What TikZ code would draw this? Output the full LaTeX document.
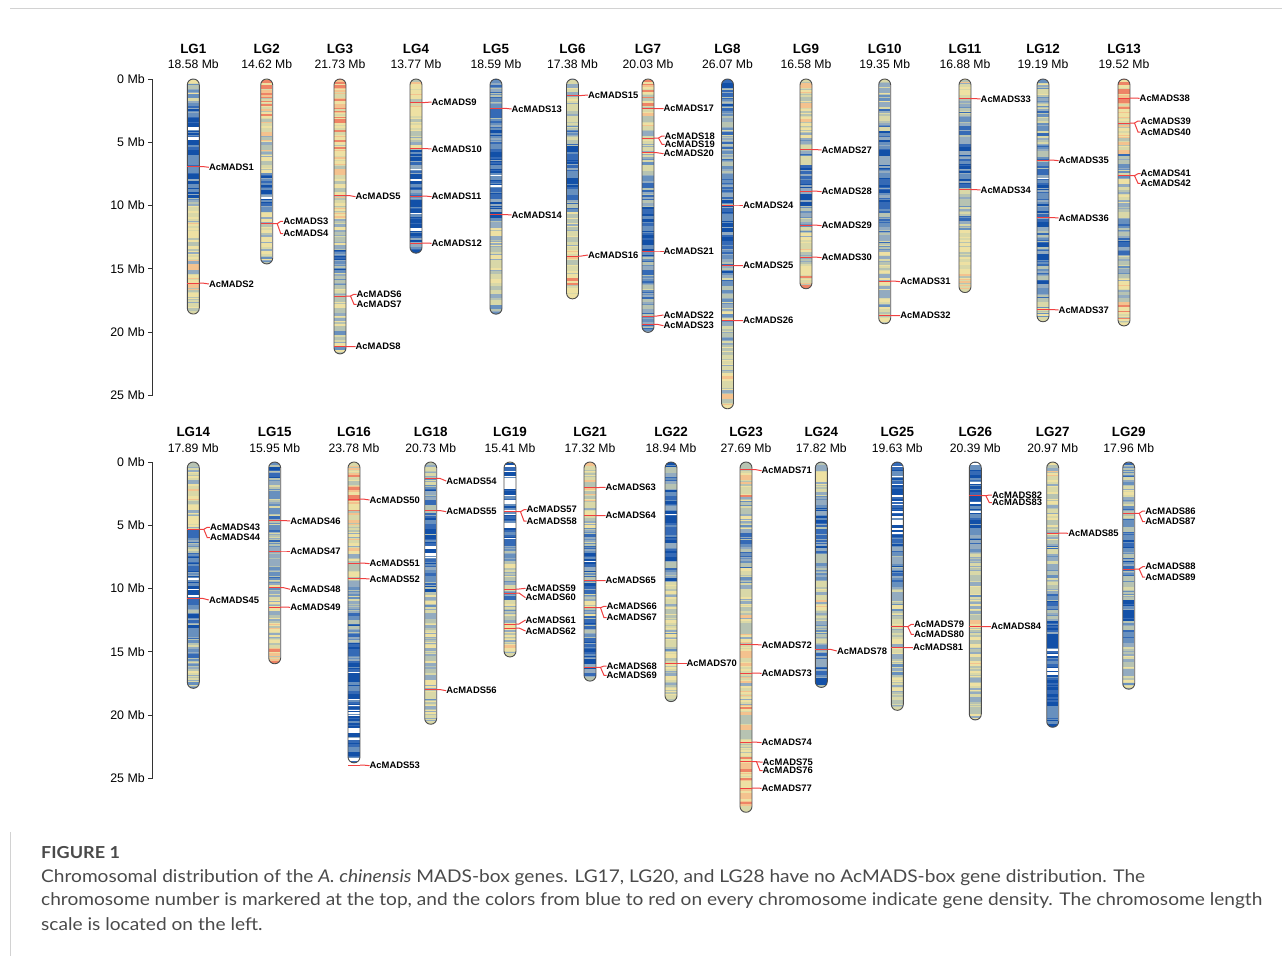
\documentclass[tikz,border=0pt]{standalone}
\usepackage{fontspec}
\setmainfont{Liberation Sans}
\newfontfamily\capfont{Lato}
\usepackage{graphicx}
\usetikzlibrary{calc}
\definecolor{cW}{HTML}{FFFFFF}
\definecolor{c1}{HTML}{1250A8}
\definecolor{c2}{HTML}{356AB6}
\definecolor{c3}{HTML}{6890BE}
\definecolor{c4}{HTML}{93ABC0}
\definecolor{c5}{HTML}{B7C3B2}
\definecolor{c6}{HTML}{D9D8A8}
\definecolor{c7}{HTML}{EEE1A3}
\definecolor{c8}{HTML}{F4C28E}
\definecolor{c9}{HTML}{EE8466}
\definecolor{bandred}{HTML}{F04040}
\definecolor{chrline}{HTML}{4D4D4D}
\definecolor{axcol}{HTML}{333333}
\definecolor{captxt}{HTML}{4A4A4A}
\definecolor{framegray}{HTML}{D2D2D2}
\newlength\capw
\def\mbs{12.65}
\def\stp{0.1}
\def\lastsc{c5}
\newcommand\pickcolor[1]{%
 \ifdim#1pt<-0.08pt \def\sc{cW}\else
 \ifdim#1pt<0.12pt \def\sc{c1}\else
 \ifdim#1pt<0.24pt \def\sc{c2}\else
 \ifdim#1pt<0.36pt \def\sc{c3}\else
 \ifdim#1pt<0.48pt \def\sc{c4}\else
 \ifdim#1pt<0.60pt \def\sc{c5}\else
 \ifdim#1pt<0.72pt \def\sc{c6}\else
 \ifdim#1pt<0.86pt \def\sc{c7}\else
 \ifdim#1pt<0.96pt \def\sc{c8}\else \def\sc{c9}%
 \fi\fi\fi\fi\fi\fi\fi\fi\fi}
\newcommand\chrom[5]{%
 \pgfmathsetmacro\chh{#4*\mbs}%
 \begin{scope}
 \clip[rounded corners=5.9pt] (#2-6,#3) rectangle (#2+6,#3+\chh);
 \fill[c6] (#2-6,#3) rectangle (#2+6,#3+\chh);
 \pgfmathtruncatemacro\nst{#4/\stp}%
 \foreach \i in {0,...,\nst}{%
 \pgfmathtruncatemacro\seg{min(9,10*\i*\stp/#4)}%
 \pgfmathsetmacro\bb{{#5}[\seg]}%
 \pgfmathsetmacro\vv{\bb+(rnd-0.5)*0.5}%
 \pgfmathsetmacro\rr{rnd}%
 \ifdim\rr pt<0.25pt \let\sc\lastsc \else \pickcolor{\vv}\fi
 \global\let\lastsc\sc
 \fill[\sc] (#2-6,#3+\i*\stp*\mbs) rectangle (#2+6,#3+\i*\stp*\mbs+\stp*\mbs+0.25);
 }
 \end{scope}
 \node[chrbox, minimum height=\chh, anchor=north] (c#1) at (#2,#3) {};
}
\newcommand\lgtitle[4]{%
 \node[lgt] (t#1) at (#2,#3) {LG#1};
 \node[mbt] (m#1) at (#2,#3+16) {#4 Mb};
}
\newcommand\gene[4]{%
 \coordinate (g#4) at (#1+6,#2);
 \node[glab] (l#4) at (#1+15.5,#3) {AcMADS#4};
 \draw[band] (g#4) -- ++(-12,0);
 \draw[gline] (g#4) -- ++(3,0) -- (l#4.west);
}
\newcommand\genepair[6]{%
 \coordinate (g#5) at (#1+6,#2);
 \node[glab] (l#5) at (#1+16.5,#3) {AcMADS#5};
 \node[glab] (l#6) at (#1+16.5,#4) {AcMADS#6};
 \draw[band] (g#5) -- ++(-12,0);
 \draw[gline] (g#5) -- ++(4.5,0) coordinate (k#5) -- ([xshift=-2.5pt]l#5.west) -- (l#5.west);
 \draw[gline] (k#5) -- ([xshift=-2.5pt]l#6.west) -- (l#6.west);
}
\begin{document}
\settowidth\capw{\capfont\fontsize{17.5}{20}\selectfont chromosome number is markered at the top, and the colors from blue to red on every chromosome indicate gene density. The chromosome length}%
\pgfmathsetmacro\capsx{1221/\capw}%
\begin{tikzpicture}[x=1pt,y=-1pt,
 chrbox/.style={shape=rectangle, draw=chrline, line width=0.9pt, rounded corners=5.9pt, minimum width=12pt, inner sep=0pt, outer sep=0pt},
 lgt/.style={font=\fontsize{13.4}{15}\selectfont\bfseries, inner sep=0pt},
 mbt/.style={font=\fontsize{12.2}{14}\selectfont, inner sep=0pt},
 axl/.style={font=\fontsize{12.4}{14}\selectfont, anchor=east, inner sep=0pt},
 glab/.style={font=\fontsize{9.4}{10}\selectfont\bfseries, anchor=west, inner sep=0pt, text=black},
 gline/.style={draw=bandred, line width=1pt},
 band/.style={draw=bandred, line width=0.6pt},
 axis/.style={draw=axcol, line width=0.8pt},
 captext/.style={anchor=west, inner sep=0pt, text=captxt, font=\capfont\fontsize{17.5}{20}\selectfont},
]
\useasboundingbox (0,0) rectangle (1282,956);
\fill[white] (0,0) rectangle (1282,956);
\pgfmathsetseed{4711}
% frame lines
\draw[framegray, line width=0.8pt] (10,8.5) -- (1282,8.5);
\draw[framegray, line width=0.8pt] (10,832) -- (10,956);

% ---------- scale axes ----------
\draw[axis] (152.5,79) -- (152.5,395.25);
\foreach \k in {0,5,10,15,20,25}{
 \draw[axis] (152.5,79+\k*12.65) -- ++(-4.5,0);
 \node[axl] (ta\k) at (145,79+\k*12.65) {\k\ Mb};
}
\draw[axis] (152.5,462) -- (152.5,778.25);
\foreach \k in {0,5,10,15,20,25}{
 \draw[axis] (152.5,462+\k*12.65) -- ++(-4.5,0);
 \node[axl] (tb\k) at (145,462+\k*12.65) {\k\ Mb};
}

% ---------- titles ----------
\lgtitle{1}{193.3}{48.5}{18.58}
\lgtitle{2}{266.7}{48.5}{14.62}
\lgtitle{3}{340}{48.5}{21.73}
\lgtitle{4}{416}{48.5}{13.77}
\lgtitle{5}{496}{48.5}{18.59}
\lgtitle{6}{572.5}{48.5}{17.38}
\lgtitle{7}{648}{48.5}{20.03}
\lgtitle{8}{727.5}{48.5}{26.07}
\lgtitle{9}{806}{48.5}{16.58}
\lgtitle{10}{884.7}{48.5}{19.35}
\lgtitle{11}{965}{48.5}{16.88}
\lgtitle{12}{1043}{48.5}{19.19}
\lgtitle{13}{1124}{48.5}{19.52}
\lgtitle{14}{193.3}{432}{17.89}
\lgtitle{15}{274.7}{432}{15.95}
\lgtitle{16}{354}{432}{23.78}
\lgtitle{18}{430.7}{432}{20.73}
\lgtitle{19}{510}{432}{15.41}
\lgtitle{21}{590}{432}{17.32}
\lgtitle{22}{671}{432}{18.94}
\lgtitle{23}{746}{432}{27.69}
\lgtitle{24}{821.3}{432}{17.82}
\lgtitle{25}{897.3}{432}{19.63}
\lgtitle{26}{975.3}{432}{20.39}
\lgtitle{27}{1052.7}{432}{20.97}
\lgtitle{29}{1128.7}{432}{17.96}

% ---------- chromosomes ----------
\chrom{1}{193.3}{79}{18.58}{0.5,0.15,0.1,0.12,0.2,0.55,0.62,0.66,0.7,0.66}
\chrom{2}{266.7}{79}{14.62}{0.9,0.8,0.7,0.65,0.6,0.2,0.15,0.6,0.62,0.55}
\chrom{3}{340}{79}{21.73}{0.85,0.85,0.78,0.72,0.7,0.6,0.3,0.55,0.62,0.55}
\chrom{4}{416}{79}{13.77}{0.75,0.72,0.68,0.6,0.25,0.15,0.2,0.12,0.15,0.2}
\chrom{5}{496}{79}{18.59}{0.4,0.3,0.25,0.15,0.1,0.2,0.6,0.62,0.6,0.5}
\chrom{6}{572.5}{79}{17.38}{0.58,0.5,0.45,0.2,0.15,0.35,0.6,0.68,0.72,0.8}
\chrom{7}{648}{79}{20.03}{0.8,0.75,0.55,0.5,0.35,0.2,0.15,0.35,0.4,0.35}
\chrom{8}{727.5}{79}{26.07}{0.35,0.4,0.35,0.25,0.15,0.3,0.45,0.55,0.6,0.68}
\chrom{9}{806}{79}{16.58}{0.7,0.72,0.6,0.45,0.25,0.2,0.45,0.55,0.62,0.8}
\chrom{10}{884.7}{79}{19.35}{0.5,0.45,0.25,0.2,0.2,0.35,0.45,0.6,0.62,0.55}
\chrom{11}{965}{79}{16.88}{0.65,0.45,0.3,0.25,0.2,0.5,0.4,0.6,0.7,0.68}
\chrom{12}{1043}{79}{19.19}{0.55,0.45,0.4,0.35,0.15,0.2,0.3,0.25,0.3,0.5}
\chrom{13}{1124}{79}{19.52}{0.85,0.8,0.7,0.45,0.55,0.4,0.3,0.45,0.62,0.75}
\chrom{14}{193.3}{462}{17.89}{0.62,0.72,0.6,0.4,0.15,0.12,0.3,0.35,0.45,0.5}
\chrom{15}{274.7}{462}{15.95}{0.3,0.4,0.4,0.45,0.55,0.45,0.55,0.6,0.65,0.75}
\chrom{16}{354}{462}{23.78}{0.8,0.8,0.7,0.62,0.5,0.3,0.15,0.12,0.08,0.15}
\chrom{18}{430.7}{462}{20.73}{0.5,0.35,0.25,0.08,0.3,0.55,0.6,0.62,0.62,0.6}
\chrom{19}{510}{462}{15.41}{0.08,0.05,0.08,0.06,0.35,0.55,0.45,0.55,0.62,0.62}
\chrom{21}{590}{462}{17.32}{0.72,0.7,0.6,0.4,0.15,0.35,0.55,0.35,0.25,0.25}
\chrom{22}{671}{462}{18.94}{0.3,0.15,0.1,0.15,0.3,0.6,0.62,0.55,0.62,0.62}
\chrom{23}{746}{462}{27.69}{0.72,0.55,0.35,0.55,0.65,0.7,0.68,0.72,0.8,0.85}
\chrom{24}{821.3}{462}{17.82}{0.6,0.45,0.3,0.25,0.4,0.55,0.65,0.5,0.35,0.3}
\chrom{25}{897.3}{462}{19.63}{0.06,0.04,0.08,0.25,0.35,0.5,0.65,0.6,0.5,0.5}
\chrom{26}{975.3}{462}{20.39}{0.1,0.08,0.2,0.45,0.55,0.6,0.65,0.62,0.62,0.6}
\chrom{27}{1052.7}{462}{20.97}{0.65,0.6,0.55,0.45,0.4,0.3,0.15,0.1,0.15,0.15}
\chrom{29}{1128.7}{462}{17.96}{0.4,0.55,0.45,0.35,0.3,0.45,0.15,0.35,0.5,0.6}

% ---------- genes, top row ----------
\gene{193.3}{166.5}{167.3}{1}
\gene{193.3}{283}{284}{2}
\genepair{266.7}{223.7}{221.3}{233.5}{3}{4}
\gene{340}{195.5}{196.7}{5}
\genepair{340}{296}{294.3}{304.3}{6}{7}
\gene{340}{346.5}{346.7}{8}
\gene{416}{102.5}{102}{9}
\gene{416}{148.5}{149}{10}
\gene{416}{196}{196.7}{11}
\gene{416}{243}{243.3}{12}
\gene{496}{108.3}{109}{13}
\gene{496}{214.5}{215}{14}
\gene{572.5}{95.5}{95}{15}
\gene{572.5}{256}{255}{16}
\gene{648}{108.5}{108.7}{17}
\genepair{648}{138}{136}{144.3}{18}{19}
\gene{648}{152.7}{153.7}{20}
\gene{648}{251}{251}{21}
\gene{648}{316}{315}{22}
\gene{648}{324.3}{325.7}{23}
\gene{727.5}{205}{205}{24}
\gene{727.5}{265.5}{265.7}{25}
\gene{727.5}{320.5}{320.7}{26}
\gene{806}{149.5}{150}{27}
\gene{806}{191}{191.7}{28}
\gene{806}{225}{225.7}{29}
\gene{806}{257}{257.7}{30}
\gene{884.7}{281}{281.7}{31}
\gene{884.7}{315.5}{315.7}{32}
\gene{965}{98.5}{99}{33}
\gene{965}{189.5}{190}{34}
\gene{1043}{160}{160.7}{35}
\gene{1043}{217.5}{218}{36}
\gene{1043}{309.5}{310}{37}
\gene{1124}{98}{98.3}{38}
\genepair{1124}{123}{121}{132}{39}{40}
\genepair{1124}{175.7}{173.7}{183.3}{41}{42}

% ---------- genes, bottom row ----------
\genepair{193.3}{529.3}{527.3}{537.7}{43}{44}
\gene{193.3}{598.3}{600}{45}
\gene{274.7}{520.5}{521}{46}
\gene{274.7}{551}{551}{47}
\gene{274.7}{587.7}{589.3}{48}
\gene{274.7}{607}{607.3}{49}
\gene{354}{499}{500}{50}
\gene{354}{563}{563.7}{51}
\gene{354}{578.5}{579}{52}
\gene{354}{765}{765.7}{53}
\gene{430.7}{478.3}{481}{54}
\gene{430.7}{510.5}{511.7}{55}
\gene{430.7}{689.5}{690.7}{56}
\genepair{510}{511.7}{509.7}{521}{57}{58}
\gene{510}{589}{588.3}{59}
\gene{510}{593}{597.7}{60}
\gene{510}{624}{620}{61}
\gene{510}{628}{631}{62}
\gene{590}{487.5}{487.3}{63}
\gene{590}{515.5}{515.7}{64}
\gene{590}{580.5}{580.7}{65}
\genepair{590}{607.7}{606.3}{617.7}{66}{67}
\genepair{590}{667.3}{666}{675.3}{68}{69}
\gene{671}{663.7}{663.7}{70}
\gene{746}{469.5}{470.7}{71}
\gene{746}{644.5}{645}{72}
\gene{746}{673}{673.3}{73}
\gene{746}{742}{742.7}{74}
\genepair{746}{761.7}{762}{770.7}{75}{76}
\gene{746}{788}{788.3}{77}
\gene{821.3}{649.3}{651}{78}
\genepair{897.3}{626.7}{624.3}{634.3}{79}{80}
\gene{897.3}{647.5}{647.7}{81}
\genepair{975.3}{495.7}{495}{502.7}{82}{83}
\gene{975.3}{626.5}{626.7}{84}
\gene{1052.7}{533}{533.3}{85}
\genepair{1128.7}{513.3}{511}{521.7}{86}{87}
\genepair{1128.7}{569}{566.7}{577}{88}{89}

% ---------- caption ----------
\node[anchor=west, inner sep=0pt, text=captxt, font=\capfont\fontsize{16.5}{18}\selectfont\bfseries] (fig) at (41,853) {\scalebox{\capsx}[1]{FIGURE 1}};
\node[captext] (cap1) at (41,878) {\scalebox{\capsx}[1]{Chromosomal distribution of the \textit{A. chinensis} MADS-box genes. LG17, LG20, and LG28 have no AcMADS-box gene distribution. The}};
\node[captext] (cap2) at (41,901) {\scalebox{\capsx}[1]{chromosome number is markered at the top, and the colors from blue to red on every chromosome indicate gene density. The chromosome length}};
\node[captext] (cap3) at (41,924) {\scalebox{\capsx}[1]{scale is located on the left.}};
\end{tikzpicture}
\end{document}
